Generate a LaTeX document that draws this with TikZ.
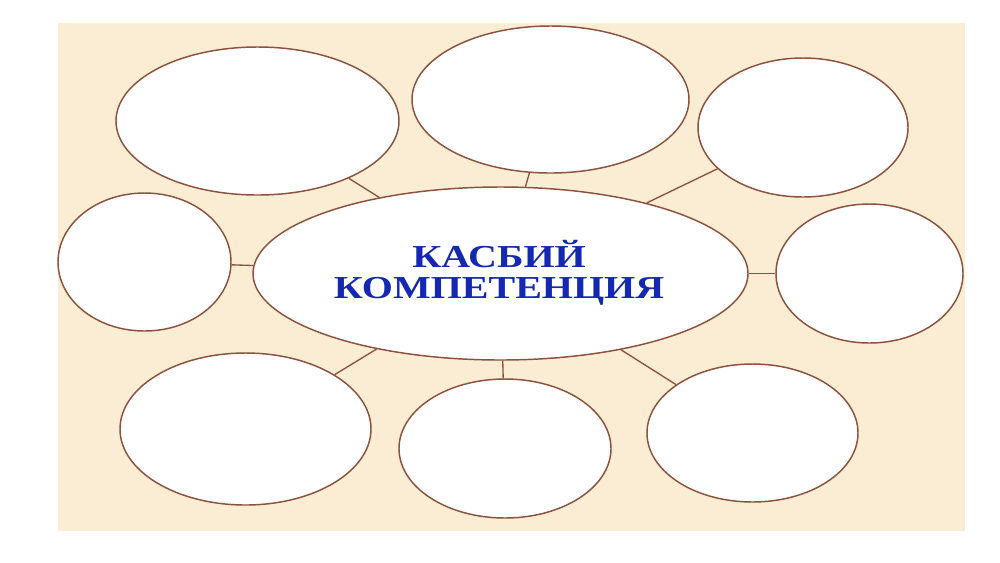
\documentclass[tikz,border=0pt]{standalone}
\usepackage{fontspec}
\setmainfont{Liberation Serif}
\newfontfamily\titlefont[FakeStretch=1.25]{Liberation Serif}
\usetikzlibrary{shapes.geometric}
\definecolor{beige}{RGB}{251,236,212}
\definecolor{edgebrown}{RGB}{140,82,62}
\definecolor{titleblue}{RGB}{20,40,178}
\tikzset{
  ell/.style 2 args={ellipse, draw=edgebrown, line width=1.1pt, fill=white, inner sep=0pt,
    minimum width=#1*0.75pt, minimum height=#2*0.75pt},
  link/.style={draw=edgebrown, line width=1pt},
  title/.style={font=\titlefont\bfseries\fontsize{24}{23.5}\selectfont, text=titleblue, align=center}
}
\begin{document}
\begin{tikzpicture}[x=0.75pt,y=-0.75pt]
\path[use as bounding box] (0,0) rectangle (1000,562);
\fill[white] (0,0) rectangle (1000,562);
\fill[beige] (58,23) rectangle (965,531);
\node[ell={283}{148}] (tl) at (257.5,121) {};
\node[ell={277}{147}] (tm) at (550.5,99.5) {};
\node[ell={210}{139}] (tr) at (803,127.5) {};
\node[ell={173}{138}] (l) at (144.5,262) {};
\node[ell={187}{139}] (r) at (869.5,273.5) {};
\node[ell={251}{152}] (bl) at (245.5,429) {};
\node[ell={212}{139}] (bm) at (505,448.5) {};
\node[ell={211}{138}] (br) at (752.5,433) {};
\node[ell={495}{173}] (c) at (500.5,273.5) {};
\node[title] (t) at (499,273) {КАСБИЙ\\КОМПЕТЕНЦИЯ};
\foreach \n in {tl,tm,tr,l,r,bl,bm,br} \draw[link] (c) -- (\n);
\end{tikzpicture}
\end{document}
